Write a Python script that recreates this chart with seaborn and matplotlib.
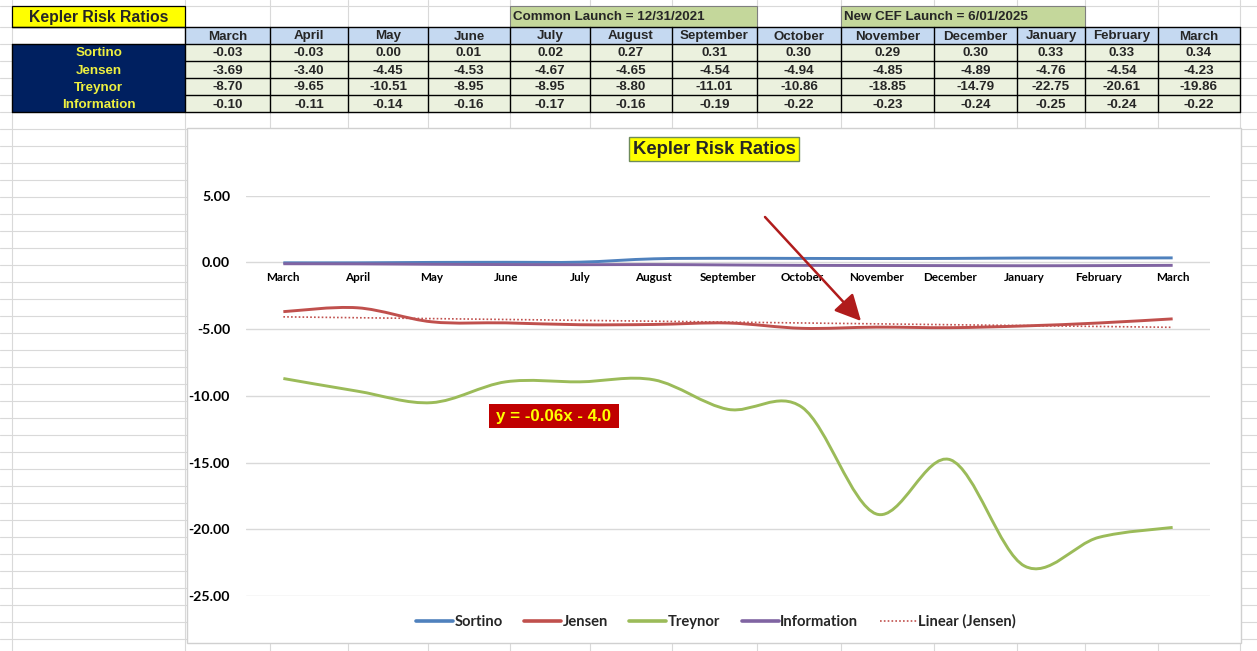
import numpy as np
import matplotlib
matplotlib.use("Agg")
import matplotlib.pyplot as plt
import seaborn as sns
from matplotlib.path import Path
from matplotlib.patches import PathPatch, Rectangle, FancyArrowPatch
from matplotlib.lines import Line2D

# ---------------- data ----------------
months = ["March", "April", "May", "June", "July", "August", "September",
          "October", "November", "December", "January", "February", "March"]
sortino = [-0.03, -0.03, 0.00, 0.01, 0.02, 0.27, 0.31, 0.30, 0.29, 0.30, 0.33, 0.33, 0.34]
jensen = [-3.69, -3.40, -4.45, -4.53, -4.67, -4.65, -4.54, -4.94, -4.85, -4.89, -4.76, -4.54, -4.23]
treynor = [-8.70, -9.65, -10.51, -8.95, -8.95, -8.80, -11.01, -10.86, -18.85, -14.79, -22.75, -20.61, -19.86]
information = [-0.10, -0.11, -0.14, -0.16, -0.17, -0.16, -0.19, -0.22, -0.23, -0.24, -0.25, -0.24, -0.22]
series_names = ["Sortino", "Jensen", "Treynor", "Information"]
series_colors = ["#4F81BD", "#C0504D", "#9BBB59", "#8064A2"]
trend_name = "Linear (Jensen)"
title = "Kepler Risk Ratios"
launch_labels = ["Common Launch = 12/31/2021", "New CEF Launch = 6/01/2025"]
trend_label = "y = -0.06x - 4.0"
y_ticks = [5, 0, -5, -10, -15, -20, -25]

W, H = 1257, 651
sns.set_theme(style="white")
plt.rcParams["font.family"] = ["DejaVu Sans"]

fig = plt.figure(figsize=(W / 100, H / 100), dpi=100)
fig.patch.set_facecolor("white")

# -------- spreadsheet background (pixel coordinates) --------
bg = fig.add_axes([0, 0, 1, 1])
bg.set_xlim(0, W)
bg.set_ylim(H, 0)
bg.axis("off")

grid_c = "#D9D9D9"
row_lines = [6] + list(range(27, H + 1, 17))
for y in row_lines:
    bg.plot([0, W], [y, y], color=grid_c, lw=0.8, zorder=0)
col_x = [12, 185, 270, 348, 428, 510, 590, 672, 757, 841, 934, 1017, 1085, 1158, 1240]
for x in col_x:
    bg.plot([x, x], [0, H], color=grid_c, lw=0.8, zorder=0)

arial = "Liberation Sans"
tsize = 9.6
# title cell
bg.add_patch(Rectangle((12, 6), 173, 21, facecolor="#FFFF00", edgecolor="black", lw=0.9, zorder=2))
bg.text(98.5, 17.5, title, ha="center", va="center", fontsize=11.3, fontweight="bold",
        family=arial, zorder=3)
# launch boxes
for (x0, x1), lab in zip([(510, 757), (841, 1085)], launch_labels):
    bg.add_patch(Rectangle((x0, 6), x1 - x0, 21, facecolor="#C4D79B", edgecolor="#7F7F7F",
                           lw=0.8, zorder=2))
    bg.text(x0 + 3, 17.5, lab, ha="left", va="center", fontsize=tsize, fontweight="bold",
            family=arial, zorder=3)

# header row + data rows
rows_top = [44, 61, 78, 95]
cols = list(zip(col_x[1:-1], col_x[2:]))
for (x0, x1), m in zip(cols, months):
    bg.add_patch(Rectangle((x0, 27), x1 - x0, 17, facecolor="#C5D9F1", edgecolor="none", zorder=1))
    bg.text((x0 + x1) / 2, 36.5, m, ha="center", va="center", fontsize=tsize, fontweight="bold",
            family=arial, zorder=3)
bg.add_patch(Rectangle((12, 44), 173, 68, facecolor="#002060", edgecolor="none", zorder=1))
for yt, name, vals in zip(rows_top, series_names, [sortino, jensen, treynor, information]):
    bg.text(98.5, yt + 9.5, name, ha="center", va="center", fontsize=tsize, fontweight="bold",
            family=arial, color="#EEF040", zorder=3)
    for (x0, x1), v in zip(cols, vals):
        bg.add_patch(Rectangle((x0, yt), x1 - x0, 17, facecolor="#EBF1DE", edgecolor="none", zorder=1))
        bg.text((x0 + x1) / 2, yt + 9.5, f"{v:.2f}", ha="center", va="center", fontsize=tsize,
                fontweight="bold", family=arial, zorder=3)
# borders
for y in [27, 44, 112]:
    bg.plot([12, 1240], [y, y], color="black", lw=1.0, zorder=2)
for y in [61, 78, 95]:
    bg.plot([185, 1240], [y, y], color="black", lw=1.0, zorder=2)
for x in col_x[1:]:
    bg.plot([x, x], [27, 112], color="black", lw=1.0, zorder=2)
bg.plot([12, 12], [44, 112], color="black", lw=1.0, zorder=2)

# chart area
bg.add_patch(Rectangle((187, 128), 1054, 515, facecolor="white", edgecolor="#D0D0D0", lw=1.0, zorder=4))
bg.text(714, 149, title, ha="center", va="center", fontsize=13.3, fontweight="bold", family=arial,
        zorder=6, bbox=dict(boxstyle="square,pad=0.18", facecolor="#FFFF00", edgecolor="#6E8B5A", lw=1))

# -------- the chart --------
ax = fig.add_axes([246.3 / W, (H - 596) / H, (1209.7 - 246.3) / W, (596 - 195.7) / H])
ax.set_zorder(5)
ax.patch.set_alpha(0)
ax.set_xlim(-0.5, len(months) - 0.5)
ax.set_ylim(-25, 5)
ax.set_yticks(y_ticks)
ax.yaxis.grid(True, color="#D9D9D9", lw=1.0)
ax.xaxis.grid(False)
for s in ax.spines.values():
    s.set_visible(False)
ax.spines["bottom"].set_position(("data", 0))
ax.set_xticks(range(len(months)))
ax.set_xticklabels(months, fontsize=8.4, fontweight="bold", family="Lato")
ax.set_yticklabels([f"{t:.2f}" for t in y_ticks], fontsize=10.2, fontweight="bold", family="Lato")
ax.tick_params(axis="x", length=0, pad=7, colors="black")
ax.tick_params(axis="y", length=0, pad=11.7, colors="black")
ax.set_axisbelow(True)


def smooth_path(values):
    pts = np.column_stack([np.arange(len(values), dtype=float), np.asarray(values, float)])
    ext = np.vstack([pts[0], pts, pts[-1]])
    verts = [tuple(pts[0])]
    codes = [Path.MOVETO]
    for i in range(len(pts) - 1):
        p0, p1, p2, p3 = ext[i], ext[i + 1], ext[i + 2], ext[i + 3]
        c1 = p1 + (p2 - p0) / 6.0
        c2 = p2 - (p3 - p1) / 6.0
        verts += [tuple(c1), tuple(c2), tuple(p2)]
        codes += [Path.CURVE4] * 3
    return Path(verts, codes)


# trend line via seaborn's linear fit
sns.regplot(x=np.arange(len(jensen)), y=np.array(jensen), ax=ax, scatter=False, ci=None,
            truncate=True, line_kws=dict(color="#C0504D", lw=1.2, ls=(0, (1, 1.3)), zorder=2))

for vals, col in zip([sortino, jensen, treynor, information], series_colors):
    ax.add_patch(PathPatch(smooth_path(vals), facecolor="none", edgecolor=col, lw=2.1,
                           joinstyle="round", capstyle="butt", zorder=3))
ax.set_xlabel("")
ax.set_ylabel("")

# arrow and equation label (pixel coords on background)
bg2 = fig.add_axes([0, 0, 1, 1])
bg2.set_xlim(0, W)
bg2.set_ylim(H, 0)
bg2.axis("off")
bg2.set_zorder(7)
bg2.patch.set_alpha(0)
bg2.add_patch(FancyArrowPatch((765, 217), (861, 321), arrowstyle="-|>,head_length=10,head_width=5",
                              color="#B01C1C", lw=1.8, mutation_scale=1.6, shrinkA=0, shrinkB=0))
bg2.add_patch(Rectangle((489, 404), 130, 24, facecolor="#C00000", edgecolor="none"))
bg2.text(554, 416.5, trend_label, ha="center", va="center", fontsize=12.2, fontweight="bold",
         family=arial, color="#FFFF00")

handles = [Line2D([], [], color=c, lw=2.6) for c in series_colors]
handles.append(Line2D([], [], color="#C0504D", lw=1.2, ls=(0, (1, 1.3))))
fig.legend(handles, series_names + [trend_name], loc="center", bbox_to_anchor=(716 / W, (H - 621.7) / H),
           ncol=5, frameon=False, prop=dict(family="Lato", weight="bold", size=10.6),
           handlelength=2.5, handletextpad=0.12, columnspacing=1.45)

fig.savefig("out.png", dpi=100, facecolor="white")
